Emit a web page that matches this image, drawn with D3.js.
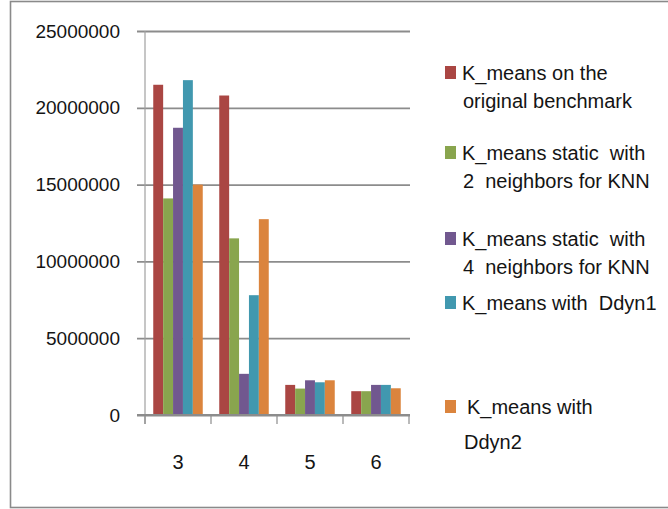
<!DOCTYPE html>
<html>
<head>
<meta charset="utf-8">
<script src="https://cdn.jsdelivr.net/npm/d3@7"></script>
<style>
  body { margin: 0; background: #fff; }
  text { font-family: "Liberation Sans", Arial, sans-serif; fill: #141414; }
</style>
</head>
<body>
<div id="chart"></div>
<script>
// number of clusters on the x axis
var categories = ["3", "4", "5", "6"];

var seriesNames = [
  "K_means on the original benchmark",
  "K_means static with 2 neighbors for KNN",
  "K_means static with 4 neighbors for KNN",
  "K_means with Ddyn1",
  "K_means with Ddyn2"
];

// legend text as it wraps in the picture
var legendLines = [
  ["K_means on the", "original benchmark"],
  ["K_means static  with", "2  neighbors for KNN"],
  ["K_means static  with", "4  neighbors for KNN"],
  ["K_means with  Ddyn1"],
  ["K_means with", "Ddyn2"]
];

// one array per series (for 3, 4, 5, 6)
var originalBench = [21500000, 20800000, 1960000, 1550000];
var static2knn    = [14100000, 11500000, 1720000, 1550000];
var static4knn    = [18700000, 2680000, 2260000, 1960000];
var withDdyn1     = [21800000, 7800000, 2130000, 1960000];
var withDdyn2     = [15000000, 12750000, 2260000, 1740000];

var yTicks = [0, 5000000, 10000000, 15000000, 20000000, 25000000];

var colors = ["#AA4643", "#89A54E", "#71588F", "#4198AF", "#DB843D"];

var allSeries = [originalBench, static2knn, static4knn, withDdyn1, withDdyn2];

var width = 668, height = 509;

var svg = d3.select("#chart").append("svg")
    .attr("width", width)
    .attr("height", height);

// outer frame, the right edge runs off the picture
svg.append("rect")
    .attr("x", 10.5).attr("y", 1.5)
    .attr("width", 700).attr("height", 506)
    .attr("fill", "none")
    .attr("stroke", "#8a8a8a")
    .attr("stroke-width", 1.6);

var plotLeft = 145, plotRight = 409, plotTop = 31, plotBottom = 415;

var x = d3.scaleBand()
    .domain(categories)
    .range([plotLeft, plotRight])
    .paddingInner(0.25)
    .paddingOuter(0.125);

var xs = d3.scaleBand()
    .domain(d3.range(seriesNames.length))
    .range([0, x.bandwidth()]);

var y = d3.scaleLinear()
    .domain([0, 25000000])
    .range([plotBottom, plotTop]);

// gridlines + y labels
var yAxis = svg.append("g")
    .attr("transform", "translate(" + plotLeft + ",0)")
    .call(d3.axisLeft(y).tickValues(yTicks).tickFormat(d3.format("d")).tickSize(0).tickPadding(25));

yAxis.select(".domain").remove();
yAxis.selectAll(".tick line")
    .attr("x1", -8)
    .attr("x2", plotRight - plotLeft + 1)
    .attr("stroke", "#8c8c8c")
    .attr("stroke-width", 1.8);
yAxis.selectAll(".tick text")
    .attr("font-size", 19)
    .attr("fill", "#141414")
    .attr("font-family", "Liberation Sans, Arial, sans-serif");

// y axis line
svg.append("line")
    .attr("x1", plotLeft).attr("x2", plotLeft)
    .attr("y1", plotTop).attr("y2", plotBottom + 9)
    .attr("stroke", "#a0a0a0")
    .attr("stroke-width", 1.2);

// bars
var groups = svg.append("g").selectAll("g")
    .data(allSeries)
    .enter().append("g")
    .attr("fill", function(d, i){ return colors[i]; });

groups.each(function(vals, si){
    d3.select(this).selectAll("rect")
        .data(vals)
        .enter().append("rect")
        .attr("x", function(v, ci){ return x(categories[ci]) + xs(si); })
        .attr("width", xs.bandwidth())
        .attr("y", function(v){ return y(v); })
        .attr("height", function(v){ return plotBottom - y(v); });
});

// x axis: line, boundary ticks and category labels
var xAxis = svg.append("g")
    .attr("transform", "translate(0," + plotBottom + ")")
    .call(d3.axisBottom(x).tickSize(0).tickPadding(40));

xAxis.select(".domain").remove();
xAxis.selectAll(".tick text")
    .attr("font-size", 20)
    .attr("fill", "#141414")
    .attr("font-family", "Liberation Sans, Arial, sans-serif");

svg.append("line")
    .attr("x1", plotLeft - 8).attr("x2", plotRight + 1)
    .attr("y1", plotBottom).attr("y2", plotBottom)
    .attr("stroke", "#8c8c8c")
    .attr("stroke-width", 1.8);

var bounds = d3.range(categories.length + 1).map(function(i){ return plotLeft + i * x.step(); });
svg.append("g").selectAll("line")
    .data(bounds)
    .enter().append("line")
    .attr("x1", function(d){ return d; })
    .attr("x2", function(d){ return d; })
    .attr("y1", plotBottom)
    .attr("y2", plotBottom + 9)
    .attr("stroke", "#8c8c8c")
    .attr("stroke-width", 1.2);

// legend, spacing is uneven in the original
var legendTop = [66, 146, 232, 296, 400];
var legendX = [[462, 463], [462, 463], [462, 463], [462], [467, 464]];

var legend = svg.append("g").selectAll("g")
    .data(seriesNames)
    .enter().append("g");

legend.append("rect")
    .attr("x", 445)
    .attr("y", function(d, i){ return legendTop[i]; })
    .attr("width", 11)
    .attr("height", 13)
    .attr("fill", function(d, i){ return colors[i]; });

legend.each(function(name, i){
    var t = d3.select(this).append("text")
        .attr("font-size", 20)
        .attr("xml:space", "preserve");
    legendLines[i].forEach(function(line, li){
        t.append("tspan")
            .attr("x", legendX[i][li])
            .attr("y", legendTop[i] + 14 + li * (i === 4 ? 35 : 28))
            .text(line);
    });
});
</script>
</body>
</html>
